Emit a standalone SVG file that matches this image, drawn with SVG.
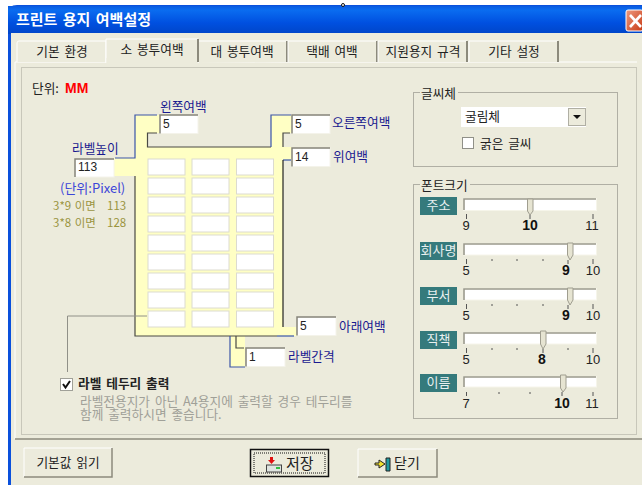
<svg xmlns="http://www.w3.org/2000/svg" width="642" height="485" viewBox="0 0 642 485">
<defs>
<linearGradient id="tb" x1="0" y1="0" x2="0" y2="1"><stop offset="0" stop-color="#0a5be0"/><stop offset="0.15" stop-color="#0a6cf0"/><stop offset="0.6" stop-color="#0050e0"/><stop offset="1" stop-color="#0045c8"/></linearGradient>
<linearGradient id="cl" x1="0" y1="0" x2="1" y2="1"><stop offset="0" stop-color="#ee9a80"/><stop offset="1" stop-color="#c83a14"/></linearGradient>
</defs>
<style>
text{font-family:"Noto Sans CJK KR","Noto Sans",sans-serif;font-size:12.7px;word-spacing:2px;fill:#222}
.b{font-weight:700}
.blue{fill:#1a1a90}
.mid{text-anchor:middle}
.tab{fill:#ecebdc;stroke:#fff;stroke-width:1}
.tabe{fill:none;stroke:#8c8a7c;stroke-width:2}
.grp{fill:none;stroke:#b0afa4;stroke-width:1}
.inp{fill:#fff;stroke:#f4f3ea;stroke-width:1}
.sunk{fill:none;stroke:#85847a;stroke-width:1.5}
.dg{font-family:"Liberation Sans",sans-serif;font-size:12px}
.cell{fill:#fff;stroke:#dcdbd0;stroke-width:1}
.ln{fill:none;stroke:#4a4a44;stroke-width:1.2}
.bl{fill:none;stroke:#3a55a8;stroke-width:1.2}
.ol{fill:#9a9440;font-size:11.5px;word-spacing:1px}
.note{fill:#a0a098}
.teal{fill:#357a7c}
.tt{fill:#e8f0f0;text-anchor:middle;font-size:13px}
.tr{fill:#fff;stroke:#f6f5ea;stroke-width:1}
.trs{fill:none;stroke:#9a998c;stroke-width:1.6}
.th{fill:#e6e4d2;stroke:#a09e90;stroke-width:1}
.tk{stroke:#555;stroke-width:1}
.num{font-family:"Liberation Sans",sans-serif;font-size:13px;text-anchor:middle}
.val{font-family:"Liberation Sans",sans-serif;font-size:14px;font-weight:700;text-anchor:middle;fill:#111}
</style>
<rect width="642" height="485" fill="#fff"/>
<g id="window">
<path d="M8 485V14Q8 5 17 5H642V485Z" fill="#0a50dc"/>
<rect x="8" y="6" width="634" height="28" fill="url(#tb)"/>
<rect x="11" y="33" width="631" height="452" fill="#ecebdc"/>
<circle cx="343" cy="5" r="1.5" fill="#fff" stroke="#111" stroke-width="1"/>
<text x="16" y="25" class="b" style="fill:#fff;font-size:15px">프린트 용지 여백설정</text>
<rect x="626" y="10" width="17" height="21" rx="2" fill="url(#cl)" stroke="#fff"/>
<path d="M630 15L641 27M641 15L630 27" stroke="#fff" stroke-width="2.6"/>
</g>
<g id="panel">
<path d="M15 439V62H637" fill="none" stroke="#fff"/>
<path d="M15 439H642" fill="none" stroke="#8c8a7c" stroke-width="1.5"/>
<rect x="21.500" y="67.500" width="615" height="367" fill="none" stroke="#c8c7ba"/>
</g>
<g id="tabs">
<path class="tab" d="M17 62V43Q17 41 19 41H106V62"/>
<path class="tab" d="M198 63V41H288V62"/><path class="tabe" d="M287 41V62"/>
<path class="tab" d="M288 62V41H377V62"/><path class="tabe" d="M377 41V62"/>
<path class="tab" d="M378 62V41H467V62"/><path class="tabe" d="M467 41V62"/>
<path class="tab" d="M469 62V41H558V62"/><path class="tabe" d="M558 41V62"/>
<path class="tab" d="M106 63V39H198V63"/><rect x="106.500" y="58" width="91" height="6" fill="#ecebdc"/><path class="tabe" d="M198 39V62"/>
<text class="mid" x="62" y="56">기본 환경</text>
<text class="mid" x="152" y="54">소 봉투여백</text>
<text class="mid" x="242" y="56">대 봉투여백</text>
<text class="mid" x="332" y="56">택배 여백</text>
<text class="mid" x="423" y="56">지원용지 규격</text>
<text class="mid" x="514" y="56">기타 설정</text>
</g>
<g id="unit"><text x="32" y="93">단위:</text><text x="65" y="93" class="b" style="fill:#f00;font-size:14px;font-family:'Liberation Sans',sans-serif">MM</text></g>
<g id="sheet">
<path fill="#ffffc4" d="M135 115H160V133H147V147H271V115H293V133H283V147H292V160H283V327H297V336H245V367H230V336H135V176H114V158H135Z"/>
<g id="cells">
<rect class="cell" x="148" y="159" width="37" height="16"/><rect class="cell" x="192" y="159" width="37" height="16"/><rect class="cell" x="236.500" y="159" width="37" height="16"/>
<rect class="cell" x="148" y="178" width="37" height="16"/><rect class="cell" x="192" y="178" width="37" height="16"/><rect class="cell" x="236.500" y="178" width="37" height="16"/>
<rect class="cell" x="148" y="197" width="37" height="16"/><rect class="cell" x="192" y="197" width="37" height="16"/><rect class="cell" x="236.500" y="197" width="37" height="16"/>
<rect class="cell" x="148" y="216" width="37" height="16"/><rect class="cell" x="192" y="216" width="37" height="16"/><rect class="cell" x="236.500" y="216" width="37" height="16"/>
<rect class="cell" x="148" y="235" width="37" height="16"/><rect class="cell" x="192" y="235" width="37" height="16"/><rect class="cell" x="236.500" y="235" width="37" height="16"/>
<rect class="cell" x="148" y="254" width="37" height="16"/><rect class="cell" x="192" y="254" width="37" height="16"/><rect class="cell" x="236.500" y="254" width="37" height="16"/>
<rect class="cell" x="148" y="273" width="37" height="16"/><rect class="cell" x="192" y="273" width="37" height="16"/><rect class="cell" x="236.500" y="273" width="37" height="16"/>
<rect class="cell" x="148" y="292" width="37" height="16"/><rect class="cell" x="192" y="292" width="37" height="16"/><rect class="cell" x="236.500" y="292" width="37" height="16"/>
<rect class="cell" x="148" y="311" width="37" height="16"/><rect class="cell" x="192" y="311" width="37" height="16"/><rect class="cell" x="236.500" y="311" width="37" height="16"/>
</g>
</g>
<g id="connectors">
<path class="bl" d="M157 115H135V158H115"/>
<path class="ln" d="M135 176V336H277"/>
<path class="bl" d="M277 336H294"/>
<path class="ln" d="M157 133H147.500V147H271"/>
<path class="bl" d="M271 147V115H291"/>
<path class="ln" d="M290 133H283V147"/>
<path class="bl" d="M291 160H283"/>
<path d="M283 160V327" fill="none" stroke="#222" stroke-width="1.2"/>
<path class="bl" d="M230 336V367H245"/>
<path class="ln" d="M236 336V348H244"/>
<path d="M147 316H67.500V372" fill="none" stroke="#909088" stroke-width="1"/>
</g>
<g id="margin-left"><text class="blue" x="160" y="111">왼쪽여백</text><rect class="inp" x="160" y="115" width="38" height="18.500"/><path class="sunk" d="M160 133.500V115H198"/><text class="dg" x="163" y="128">5</text></g>
<g id="margin-right"><rect class="inp" x="292" y="115" width="38" height="18.500"/><path class="sunk" d="M292 133.500V115H330"/><text class="dg" x="295" y="128">5</text><text class="blue" x="332" y="127">오른쪽여백</text></g>
<g id="margin-top"><rect class="inp" x="292" y="148" width="38" height="18.500"/><path class="sunk" d="M292 166.500V148H330"/><text class="dg" x="295" y="161">14</text><text class="blue" x="333" y="161">위여백</text></g>
<g id="margin-bottom"><rect class="inp" x="297" y="317" width="39" height="18.500"/><path class="sunk" d="M297 335.500V317H336"/><text class="dg" x="300" y="330">5</text><text class="blue" x="339" y="331">아래여백</text></g>
<g id="label-gap"><rect class="inp" x="246" y="348" width="39" height="18.500"/><path class="sunk" d="M246 366.500V348H285"/><text class="dg" x="249" y="361">1</text><text class="blue" x="288" y="361">라벨간격</text></g>
<g id="label-height"><text class="blue" x="72" y="153">라벨높이</text><rect class="inp" x="75" y="159" width="39" height="18"/><path class="sunk" d="M75 177V159H114"/><text class="dg" x="78" y="171">113</text>
<text x="60" y="193" style="fill:#3c46d8;font-size:13px">(단위:Pixel)</text>
<text x="53" y="210" class="ol">3*9 이면</text><text x="107" y="210" class="ol">113</text>
<text x="53" y="227" class="ol">3*8 이면</text><text x="107" y="227" class="ol">128</text></g>
<g id="border-check">
<rect x="60.500" y="378.500" width="12" height="12" fill="#fff" stroke="#a0a098"/><path d="M63 384L65.500 387.500L70 381" fill="none" stroke="#111" stroke-width="2"/>
<text x="78" y="388" class="b">라벨 테두리 출력</text>
<text class="note" x="80" y="406">라벨전용지가 아닌 A4용지에 출력할 경우 테두리를<tspan x="80" dy="13">함께 출력하시면 좋습니다.</tspan></text>
</g>
<g id="font-group">
<rect class="grp" x="413.500" y="92.500" width="204" height="74"/><rect x="420" y="86" width="38" height="12" fill="#ecebdc"/>
<text x="421" y="98">글씨체</text>
<rect x="461" y="107" width="125" height="20" fill="#fff"/>
<text x="465" y="121">굴림체</text>
<rect x="568.500" y="108.500" width="17" height="17" fill="#ecebdc" stroke="#b0afa4"/><path d="M573 115H581L577 119Z" fill="#111"/>
<rect x="462.500" y="137.500" width="11" height="11" fill="#fff" stroke="#909088"/>
<text x="480" y="148">굵은 글씨</text>
</g>
<g id="size-group">
<rect class="grp" x="413.500" y="184.500" width="204" height="234"/><rect x="420" y="178" width="50" height="12" fill="#ecebdc"/>
<text x="421" y="190">폰트크기</text>
</g>
<g id="slider-address">
<rect class="teal" x="420" y="197" width="37" height="18"/><text class="tt" x="438.500" y="210">주소</text>
<rect class="tr" x="463.500" y="198.500" width="133" height="12"/><path class="trs" d="M464 210V199H596"/>
<path class="th" d="M527.500 199H533V211L530 215L527.500 211Z"/>
<path class="tk" d="M466.500 214V219M530 215V219M593 214V219"/>
<text class="num" x="466" y="230">9</text><text class="val" x="530" y="230">10</text><text class="num" x="592" y="230">11</text>
</g>
<g id="slider-company">
<rect class="teal" x="420" y="242" width="37" height="18"/><text class="tt" x="438.500" y="255">회사명</text>
<rect class="tr" x="463.500" y="243.500" width="133" height="11.500"/><path class="trs" d="M464 255V244H596"/>
<path class="th" d="M567.500 243H573V255L570 260L567.500 255Z"/>
<path class="tk" d="M466.500 259V264M492 259V261M517 259V261M543 259V261M568 260V264M593 259V264"/>
<text class="num" x="466" y="275">5</text><text class="val" x="566" y="275">9</text><text class="num" x="593" y="275">10</text>
</g>
<g id="slider-dept">
<rect class="teal" x="420" y="287" width="37" height="18"/><text class="tt" x="438.500" y="300">부서</text>
<rect class="tr" x="463.500" y="288.500" width="133" height="11.500"/><path class="trs" d="M464 300V289H596"/>
<path class="th" d="M567.500 288H573V300L570 305L567.500 300Z"/>
<path class="tk" d="M466.500 304V309M492 304V306M517 304V306M543 304V306M568 305V309M593 304V309"/>
<text class="num" x="466" y="320">5</text><text class="val" x="566" y="320">9</text><text class="num" x="593" y="320">10</text>
</g>
<g id="slider-title">
<rect class="teal" x="420" y="331" width="37" height="18"/><text class="tt" x="438.500" y="344">직책</text>
<rect class="tr" x="463.500" y="332.500" width="133" height="11.500"/><path class="trs" d="M464 344V333H596"/>
<path class="th" d="M540.500 331H546V344L543 349L540.500 344Z"/>
<path class="tk" d="M466.500 348V353M492 348V350M517 348V350M543 349V353M568 348V350M593 348V353"/>
<text class="num" x="466" y="364">5</text><text class="val" x="542" y="364">8</text><text class="num" x="593" y="364">10</text>
</g>
<g id="slider-name">
<rect class="teal" x="420" y="374" width="37" height="18"/><text class="tt" x="438.500" y="387">이름</text>
<rect class="tr" x="463.500" y="376.500" width="133" height="10.500"/><path class="trs" d="M464 387V377H596"/>
<path class="th" d="M560.500 375H566V388L563 392L560.500 388Z"/>
<path class="tk" d="M466.500 392V396M499 392V394M530 392V394M562 392V396M593 392V396"/>
<text class="num" x="466" y="408">7</text><text class="val" x="562" y="408">10</text><text class="num" x="592" y="408">11</text>
</g>
<g id="btn-default"><path d="M24 477V448H112" fill="none" stroke="#fff"/><path d="M24 477H112V448" fill="none" stroke="#8c8a7c" stroke-width="1.5"/><text class="mid" x="68" y="467">기본값 읽기</text></g>
<g id="btn-save"><rect x="250.500" y="449.500" width="78" height="27" fill="#ecebdc" stroke="#111" stroke-width="1.5"/><rect x="254" y="453" width="71" height="20" fill="none" stroke="#111" stroke-dasharray="1 1"/>
<path d="M270 457H273V460H275L271.500 464L268 460H270Z" fill="#e01010"/><rect x="266.500" y="465" width="15" height="7" fill="#dfe4e0" stroke="#444"/><rect x="276" y="467" width="4" height="2" fill="#30c040"/>
<text x="286" y="469" style="font-size:15px">저장</text></g>
<g id="btn-close"><path d="M358 477V449H437" fill="none" stroke="#fff"/><path d="M358 477H437V449" fill="none" stroke="#8c8a7c" stroke-width="1.5"/>
<path d="M386 458H390V471H386Z" fill="#1f9aa0" stroke="#222"/><path d="M375 463H379V460L385 464L379 468V465H375Z" fill="#f0e030" stroke="#222"/>
<text x="394" y="468" style="font-size:14px">닫기</text></g>
</svg>
